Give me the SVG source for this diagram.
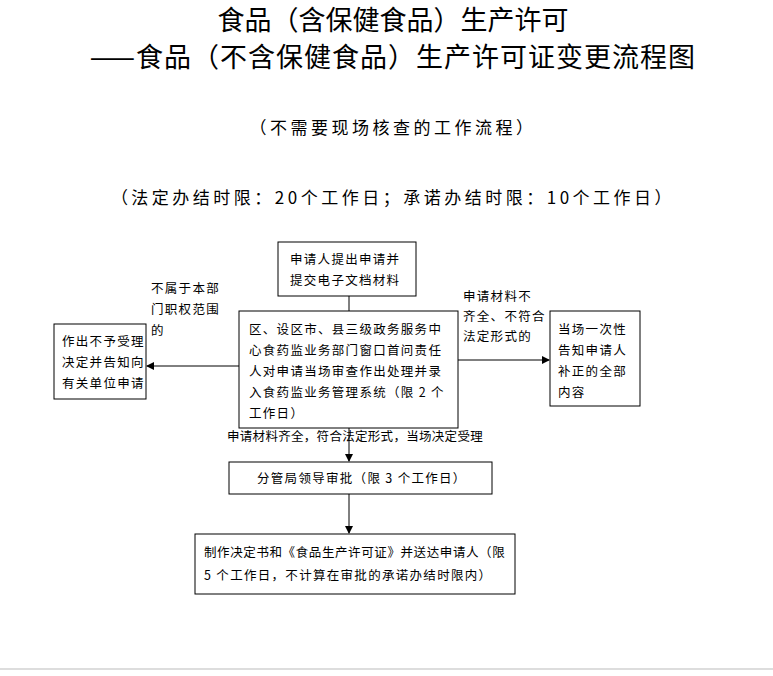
<svg xmlns="http://www.w3.org/2000/svg" width="773" height="676" viewBox="0 0 773 676">
<style>
text{font-family:"Noto Sans CJK SC","Liberation Sans",sans-serif;fill:#000}
.t{font-size:27px;text-anchor:middle}
.s{font-size:17px;text-anchor:middle;letter-spacing:3.5px}
.n{font-size:12.5px;letter-spacing:1.3px}
rect{fill:#fff;stroke:#000;stroke-width:1}
.c line{stroke:#000;stroke-width:1}
</style>
<defs><marker id="a" markerWidth="8" markerHeight="8" refX="7" refY="4" orient="auto" markerUnits="userSpaceOnUse"><path d="M0,0L8,4L0,8z" fill="#000"/></marker></defs>
<rect x="0" y="0" width="773" height="676" style="stroke:none"/>
<text class="t" x="393" y="30">食品（含保健食品）生产许可</text>
<text class="t" x="393" y="67" style="letter-spacing:1px">——食品（不含保健食品）生产许可证变更流程图</text>
<text class="s" x="393" y="134">（不需要现场核查的工作流程）</text>
<text class="s" x="393" y="204">（法定办结时限：20个工作日；承诺办结时限：10个工作日）</text>
<g class="c">
<line x1="349" y1="296" x2="349" y2="311"/>
<line x1="239" y1="366" x2="147" y2="366" marker-end="url(#a)"/>
<line x1="458" y1="360" x2="549" y2="360" marker-end="url(#a)"/>
<line x1="349" y1="428" x2="349" y2="461" marker-end="url(#a)"/>
<line x1="349" y1="494" x2="349" y2="533" marker-end="url(#a)"/>
</g>
<g id="n1"><rect x="278" y="242" width="138" height="54"/><text class="n" x="290" y="264">申请人提出申请并</text><text class="n" x="290" y="285">提交电子文档材料</text></g>
<g id="n2"><rect x="239" y="311" width="219" height="117"/>
<text class="n" x="249" y="334">区、设区市、县三级政务服务中</text>
<text class="n" x="249" y="355">心食药监业务部门窗口首问责任</text>
<text class="n" x="249" y="376">人对申请当场审查作出处理并录</text>
<text class="n" x="249" y="397">入食药监业务管理系统（限 2 个</text>
<text class="n" x="249" y="418">工作日）</text></g>
<g id="n3"><rect x="54" y="324" width="92" height="75"/>
<text class="n" x="62" y="346">作出不予受理</text><text class="n" x="62" y="367">决定并告知向</text><text class="n" x="62" y="388">有关单位申请</text></g>
<g id="n4"><rect x="550" y="311" width="90" height="95"/>
<text class="n" x="558" y="334">当场一次性</text><text class="n" x="558" y="355">告知申请人</text><text class="n" x="558" y="376">补正的全部</text><text class="n" x="558" y="397">内容</text></g>
<g id="n5"><rect x="229" y="462" width="263" height="32"/><text class="n" x="257" y="483">分管局领导审批（限 3 个工作日）</text></g>
<g id="n6"><rect x="195" y="534" width="320" height="60"/>
<text class="n" x="204" y="557" style="letter-spacing:0.6px">制作决定书和《食品生产许可证》并送达申请人（限</text>
<text class="n" x="204" y="580">5 个工作日，不计算在审批的承诺办结时限内）</text></g>
<g id="labels">
<text class="n" x="151" y="293">不属于本部</text><text class="n" x="151" y="314">门职权范围</text><text class="n" x="151" y="335">的</text>
<text class="n" x="463" y="301">申请材料不</text><text class="n" x="463" y="321">齐全、不符合</text><text class="n" x="463" y="341">法定形式的</text>
<text class="n" x="227" y="441" style="letter-spacing:0.3px">申请材料齐全，符合法定形式，当场决定受理</text>
</g>
<line x1="0" y1="669" x2="773" y2="669" stroke="#bbb" stroke-width="1"/>
</svg>
